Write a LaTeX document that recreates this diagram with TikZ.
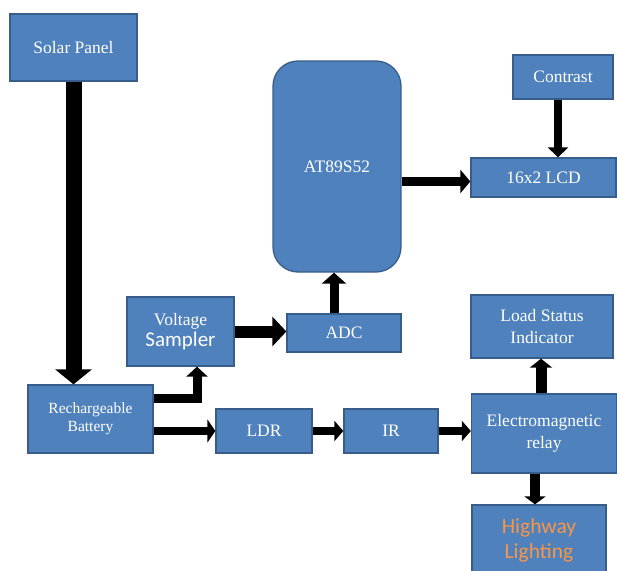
\documentclass[tikz,border=0pt]{standalone}
\usepackage{fontspec}
\setmainfont{Liberation Serif}
\newfontfamily\calib{Carlito}
\usetikzlibrary{arrows.meta}
\definecolor{boxfill}{HTML}{4F81BD}
\definecolor{boxline}{HTML}{385D8A}
\definecolor{orangetxt}{HTML}{F79646}
\tikzset{
  blk/.style={draw=boxline, fill=boxfill, line width=1.3pt, text=white, align=center,
    inner sep=0pt, font=\fontsize{17.5}{22}\selectfont},
  conn/.style={draw=black, line width=#1},
}
\begin{document}
\begin{tikzpicture}[x=1pt,y=-1pt]
\useasboundingbox (0,0) rectangle (617,570);
\clip (0,0) rectangle (617,570);
\node[blk, minimum width=127pt, minimum height=67pt] (solar) at (73.5,47.5) {Solar Panel};
\node[blk, minimum width=128pt, minimum height=211pt, rounded corners=25pt] (mcu) at (337,166.5) {AT89S52};
\node[blk, minimum width=100pt, minimum height=44pt] (contrast) at (563,77) {Contrast};
\node[blk, minimum width=145pt, minimum height=39pt] (lcd) at (543.5,177.5) {16x2 LCD};
\node[blk, minimum width=107pt, minimum height=69pt] (vs) at (180.5,331.5) {Voltage\\[-1pt]{\calib\fontsize{21}{22}\selectfont Sampler}};
\node[blk, minimum width=114pt, minimum height=38pt] (adc) at (344,333) {ADC};
\node[blk, minimum width=142pt, minimum height=63pt] (lsi) at (542,326.5) {Load Status\\Indicator};
\node[blk, minimum width=125pt, minimum height=68pt, font=\fontsize{15.5}{18}\selectfont] (bat) at (90.5,419) {Rechargeable\\Battery};
\node[blk, minimum width=96pt, minimum height=44pt] (ldr) at (264,431) {LDR};
\node[blk, minimum width=94pt, minimum height=44pt] (ir) at (391,431) {IR};
\node[blk, minimum width=145pt, minimum height=79pt] (relay) at (544,433.5) {Electromagnetic\\relay};
\node[blk, minimum width=134pt, minimum height=70pt, text=orangetxt, font=\calib\fontsize{21.5}{25}\selectfont] (hw) at (539,540) {Highway\\Lighting};

\draw[conn=16pt, -{Triangle[width=36pt,length=15pt]}] (solar.south) -- (solar.south |- bat.north);
\draw[conn=12pt, -{Triangle[width=29pt,length=14pt]}] (vs.east) -- (vs.east -| adc.west);
\draw[conn=9pt, -{Triangle[width=24pt,length=11pt]}] ([xshift=-10pt]adc.north) -- ([xshift=-10pt]adc.north |- mcu.south);
\coordinate (lcdin) at ([yshift=-4pt]lcd.west);
\draw[conn=9pt, -{Triangle[width=23pt,length=10pt]}] (mcu.east |- lcdin) -- (lcdin);
\draw[conn=8pt, -{Triangle[width=20pt,length=10pt]}] ([xshift=-5pt]contrast.south) -- ([xshift=-5pt]contrast.south |- lcd.north);
\draw[conn=9pt, -{Triangle[width=21pt,length=10pt]}] ([yshift=21pt]bat.east) -| ([xshift=16.5pt]vs.south);
\draw[conn=8pt, -{Triangle[width=23pt,length=8pt]}] (bat.east |- ldr.west) -- (ldr.west);
\draw[conn=8pt, -{Triangle[width=20pt,length=9pt]}] (ldr.east) -- (ir.west);
\draw[conn=8pt, -{Triangle[width=20pt,length=9pt]}] (ir.east) -- (ir.east -| relay.west);
\draw[conn=11pt, -{Triangle[width=22pt,length=9pt]}] ([xshift=-3pt]relay.north) -- ([xshift=-3pt]relay.north |- lsi.south);
\draw[conn=10pt, -{Triangle[width=21pt,length=8pt]}] ([xshift=-9pt]relay.south) -- ([xshift=-9pt]relay.south |- hw.north);
\end{tikzpicture}
\end{document}
